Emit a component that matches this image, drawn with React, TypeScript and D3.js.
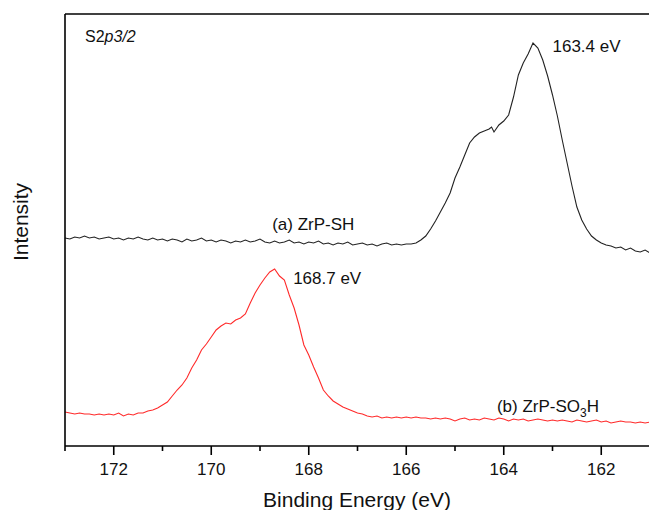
import React from "react";
import * as d3 from "d3";

// Binding energy (eV) and intensity (a.u.)
const seriesA: [number, number][] = [
  [173.0, 2080], [172.9, 2070], [172.8, 2090], [172.7, 2080], [172.6, 2100], [172.5, 2080],
  [172.4, 2090], [172.3, 2070], [172.2, 2080], [172.1, 2090], [172.0, 2070], [171.9, 2080],
  [171.8, 2060], [171.7, 2080], [171.6, 2070], [171.5, 2090], [171.4, 2070], [171.3, 2060],
  [171.2, 2080], [171.1, 2060], [171.0, 2070], [170.9, 2050], [170.8, 2070], [170.7, 2060],
  [170.6, 2040], [170.5, 2070], [170.4, 2050], [170.3, 2060], [170.2, 2080], [170.1, 2050],
  [170.0, 2060], [169.9, 2040], [169.8, 2060], [169.7, 2050], [169.6, 2030], [169.5, 2050],
  [169.4, 2040], [169.3, 2060], [169.2, 2040], [169.1, 2050], [169.0, 2070], [168.9, 2040],
  [168.8, 2030], [168.7, 2050], [168.6, 2030], [168.5, 2040], [168.4, 2060], [168.3, 2030],
  [168.2, 2040], [168.1, 2020], [168.0, 2040], [167.9, 2030], [167.8, 2050], [167.7, 2020],
  [167.6, 2030], [167.5, 2010], [167.4, 2030], [167.3, 2020], [167.2, 2040], [167.1, 2010],
  [167.0, 2020], [166.9, 2030], [166.8, 2010], [166.7, 2020], [166.6, 2000], [166.5, 2020],
  [166.4, 2030], [166.3, 2010], [166.2, 2020], [166.1, 2010], [166.0, 2020], [165.9, 2020],
  [165.8, 2030], [165.7, 2060], [165.6, 2100], [165.5, 2170], [165.4, 2250], [165.3, 2340],
  [165.2, 2430], [165.1, 2530], [165.0, 2680], [164.9, 2790], [164.8, 2910], [164.7, 3030],
  [164.6, 3090], [164.5, 3130], [164.4, 3150], [164.3, 3170], [164.25, 3190], [164.2, 3140],
  [164.1, 3210], [164.0, 3250], [163.9, 3310], [163.8, 3490], [163.7, 3710], [163.6, 3830],
  [163.5, 3920], [163.4, 4030], [163.3, 3980], [163.2, 3860], [163.1, 3700], [163.0, 3510],
  [162.9, 3300], [162.8, 3060], [162.7, 2830], [162.6, 2600], [162.5, 2390], [162.4, 2260],
  [162.3, 2170], [162.2, 2100], [162.1, 2060], [162.0, 2030], [161.9, 2010], [161.8, 2000],
  [161.7, 1980], [161.6, 1990], [161.5, 1960], [161.4, 1980], [161.3, 1950], [161.2, 1940],
  [161.1, 1960], [161.0, 1930],
];

const seriesB: [number, number][] = [
  [173.0, 340], [172.9, 330], [172.8, 320], [172.7, 330], [172.6, 320], [172.5, 320],
  [172.4, 310], [172.3, 320], [172.2, 310], [172.1, 320], [172.0, 310], [171.9, 330],
  [171.8, 300], [171.7, 320], [171.6, 310], [171.5, 330], [171.4, 330], [171.3, 350],
  [171.2, 360], [171.1, 380], [171.0, 410], [170.9, 440], [170.8, 500], [170.7, 560],
  [170.6, 610], [170.5, 680], [170.4, 780], [170.3, 860], [170.2, 960], [170.1, 1020],
  [170.0, 1090], [169.9, 1160], [169.8, 1200], [169.7, 1230], [169.6, 1220], [169.5, 1260],
  [169.4, 1280], [169.3, 1320], [169.2, 1430], [169.1, 1530], [169.0, 1610], [168.9, 1680],
  [168.8, 1740], [168.7, 1770], [168.6, 1700], [168.5, 1660], [168.4, 1510], [168.3, 1380],
  [168.2, 1210], [168.1, 1010], [168.0, 910], [167.9, 790], [167.8, 680], [167.7, 560],
  [167.6, 500], [167.5, 450], [167.4, 420], [167.3, 390], [167.2, 370], [167.1, 350],
  [167.0, 330], [166.9, 320], [166.8, 300], [166.7, 290], [166.6, 300], [166.5, 280],
  [166.4, 290], [166.3, 280], [166.2, 290], [166.1, 280], [166.0, 290], [165.9, 280],
  [165.8, 290], [165.7, 280], [165.6, 280], [165.5, 270], [165.4, 280], [165.3, 270],
  [165.2, 280], [165.1, 270], [165.0, 250], [164.9, 270], [164.8, 280], [164.7, 260],
  [164.6, 270], [164.5, 260], [164.4, 280], [164.3, 270], [164.2, 260], [164.1, 280],
  [164.0, 270], [163.9, 250], [163.8, 270], [163.7, 260], [163.6, 270], [163.5, 250],
  [163.4, 260], [163.3, 270], [163.2, 260], [163.1, 250], [163.0, 260], [162.9, 250],
  [162.8, 260], [162.7, 250], [162.6, 240], [162.5, 260], [162.4, 250], [162.3, 240],
  [162.2, 250], [162.1, 260], [162.0, 240], [161.9, 250], [161.8, 230], [161.7, 240],
  [161.6, 250], [161.5, 240], [161.4, 240], [161.3, 230], [161.2, 240], [161.1, 230],
  [161.0, 240],
];

const majorTicks = [172, 170, 168, 166, 164, 162];
const minorTicks = [173, 171, 169, 167, 165, 163, 161];
const xDomain: [number, number] = [173, 161];
const yDomain: [number, number] = [0, 4320];

const peakLabels = [
  { text: "163.4 eV", e: 163.0, v: 3940 },
  { text: "168.7 eV", e: 168.32, v: 1620 },
];

const W = 649;
const H = 510;
const M = { left: 65, top: 14, right: 650, bottom: 446 };
const FONT = "'Liberation Sans', Arial, sans-serif";

export default function App() {
  const x = d3.scaleLinear().domain(xDomain).range([M.left, M.right]);
  const y = d3.scaleLinear().domain(yDomain).range([M.bottom, M.top]);
  const line = d3
    .line<[number, number]>()
    .x((d) => x(d[0]))
    .y((d) => y(d[1]));

  return (
    <svg
      width={W}
      height={H}
      style={{ position: "absolute", left: 0, top: 0, background: "#fff" }}
      fontFamily={FONT}
    >
      <rect width={W} height={H} fill="#fff" />
      <path d={line(seriesA) || ""} fill="none" stroke="#222" strokeWidth={1.1} />
      <path d={line(seriesB) || ""} fill="none" stroke="#ff2a2a" strokeWidth={1.1} />

      {/* frame */}
      <line x1={M.left} x2={M.right} y1={M.top} y2={M.top} stroke="#000" strokeWidth={1.6} />
      <line x1={M.left} x2={M.right} y1={M.bottom} y2={M.bottom} stroke="#000" strokeWidth={1.6} />
      <line x1={M.left} x2={M.left} y1={M.top} y2={M.bottom} stroke="#000" strokeWidth={1.6} />

      {majorTicks.map((t) => (
        <g key={"M" + t}>
          <line x1={x(t)} x2={x(t)} y1={M.bottom} y2={M.bottom + 9} stroke="#000" strokeWidth={1.6} />
          <text x={x(t)} y={475} textAnchor="middle" fontSize={17} fill="#111">
            {t}
          </text>
        </g>
      ))}
      {minorTicks.map((t) => (
        <line key={"m" + t} x1={x(t)} x2={x(t)} y1={M.bottom} y2={M.bottom + 5} stroke="#000" strokeWidth={1.6} />
      ))}

      <text x={357} y={507} textAnchor="middle" fontSize={21} fill="#111">
        Binding Energy (eV)
      </text>
      <text
        transform={`translate(28,222) rotate(-90)`}
        textAnchor="middle"
        fontSize={21}
        fill="#111"
      >
        Intensity
      </text>

      <text x={85} y={42} fontSize={16} fill="#111">
        S2<tspan fontStyle="italic">p3/2</tspan>
      </text>

      {peakLabels.map((p) => (
        <text key={p.text} x={x(p.e)} y={y(p.v)} fontSize={17} fill="#111">
          {p.text}
        </text>
      ))}

      <text x={x(168.75)} y={y(2160)} fontSize={17} fill="#111">
        (a) ZrP-SH
      </text>
      <text x={x(164.14)} y={y(340)} fontSize={17} fill="#111">
        (b) ZrP-SO<tspan fontSize={12} dy={5}>3</tspan>
        <tspan dy={-5}>H</tspan>
      </text>
    </svg>
  );
}
